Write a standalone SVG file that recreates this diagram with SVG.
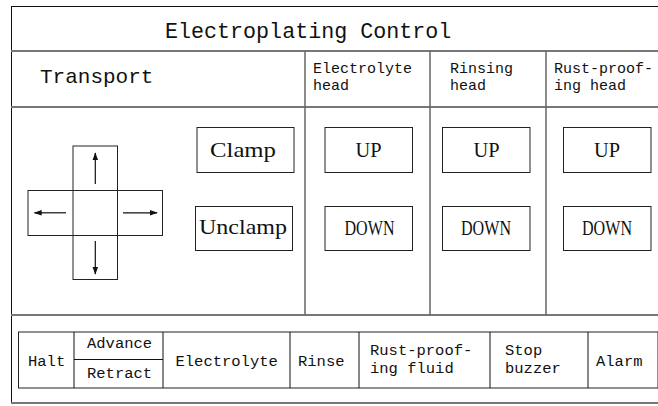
<svg xmlns="http://www.w3.org/2000/svg" width="658" height="406" viewBox="0 0 658 406">
<style>
.frame{stroke:#111;stroke-width:1;fill:none}
.div{stroke:#777;stroke-width:2;fill:none}
.vdiv{stroke:#666;stroke-width:1.5;fill:none}
.box{stroke:#222;stroke-width:1;fill:#fff}
.mono{font-family:"Liberation Mono","DejaVu Sans Mono",monospace;fill:#111}
.serif{font-family:"Liberation Serif","DejaVu Serif",serif;fill:#111;font-size:22px}
.arrow{stroke:#111;stroke-width:1.2;fill:none;marker-end:url(#ah)}
</style>
<defs>
<marker id="ah" viewBox="0 0 10 10" refX="9" refY="5" markerWidth="8" markerHeight="8" markerUnits="userSpaceOnUse" orient="auto">
<path d="M0,1.5 L10,5 L0,8.5 Z" fill="#111"/>
</marker>
</defs>
<rect width="658" height="406" fill="#fff"/>
<g id="frame">
<line class="frame" x1="11" y1="6.5" x2="658" y2="6.5"/>
<line class="frame" x1="11.5" y1="6" x2="11.5" y2="403"/>
<line class="div" x1="11" y1="51" x2="658" y2="51"/>
<line class="div" x1="11" y1="107" x2="658" y2="107"/>
<line class="div" x1="11" y1="315" x2="658" y2="315"/>
<line class="div" x1="11" y1="403" x2="658" y2="403"/>
<line class="vdiv" x1="305" y1="51" x2="305" y2="315"/>
<line class="vdiv" x1="430" y1="51" x2="430" y2="315"/>
<line class="vdiv" x1="546" y1="51" x2="546" y2="315"/>
</g>
<g id="title"><text class="mono" x="165" y="38" font-size="21.7">Electroplating Control</text></g>
<g id="transport-header"><text class="mono" x="40" y="83" font-size="21">Transport</text></g>
<g id="electrolyte-header"><text class="mono" font-size="15"><tspan x="313" y="72.5">Electrolyte</tspan><tspan x="313" y="89.5">head</tspan></text></g>
<g id="rinsing-header"><text class="mono" font-size="15"><tspan x="450" y="72.5">Rinsing</tspan><tspan x="450" y="89.5">head</tspan></text></g>
<g id="rustproof-header"><text class="mono" font-size="15"><tspan x="554" y="72.5">Rust-proof-</tspan><tspan x="554" y="89.5">ing head</tspan></text></g>
<g id="cross">
<rect class="box" x="73" y="146" width="44.5" height="133.5"/>
<rect class="box" x="28" y="190.5" width="134.5" height="45"/>
<rect class="box" x="73" y="190.5" width="44.5" height="45"/>
</g>
<g id="connectors">
<line class="arrow" x1="95.3" y1="184" x2="95.3" y2="153"/>
<line class="arrow" x1="95.3" y1="241" x2="95.3" y2="274"/>
<line class="arrow" x1="66" y1="212.8" x2="34.5" y2="212.8"/>
<line class="arrow" x1="123" y1="212.8" x2="157" y2="212.8"/>
</g>
<g id="clamp"><rect class="box" x="197" y="127.5" width="97" height="45"/><text class="serif" x="210" y="157" textLength="66" lengthAdjust="spacingAndGlyphs">Clamp</text></g>
<g id="unclamp"><rect class="box" x="195.5" y="206.5" width="97" height="44"/><text class="serif" x="199" y="234" textLength="88" lengthAdjust="spacingAndGlyphs">Unclamp</text></g>
<g id="up1"><rect class="box" x="325" y="127.5" width="87.5" height="45"/><text class="serif" x="368.5" y="157" text-anchor="middle" textLength="26" lengthAdjust="spacingAndGlyphs">UP</text></g>
<g id="down1"><rect class="box" x="325" y="206.5" width="87.5" height="44"/><text class="serif" x="344.5" y="235" textLength="50" lengthAdjust="spacingAndGlyphs">DOWN</text></g>
<g id="up2"><rect class="box" x="442.5" y="127.5" width="87.5" height="45"/><text class="serif" x="473.5" y="157" textLength="26" lengthAdjust="spacingAndGlyphs">UP</text></g>
<g id="down2"><rect class="box" x="442.5" y="206.5" width="87.5" height="44"/><text class="serif" x="461" y="235" textLength="50" lengthAdjust="spacingAndGlyphs">DOWN</text></g>
<g id="up3"><rect class="box" x="563.5" y="127.5" width="87.5" height="45"/><text class="serif" x="594" y="157" textLength="26" lengthAdjust="spacingAndGlyphs">UP</text></g>
<g id="down3"><rect class="box" x="563.5" y="206.5" width="87.5" height="44"/><text class="serif" x="582" y="235" textLength="50" lengthAdjust="spacingAndGlyphs">DOWN</text></g>
<g id="bottom-row">
<rect class="box" x="18.5" y="332" width="639.5" height="56" fill="none"/>
<line class="frame" x1="74" y1="332" x2="74" y2="388"/>
<line class="frame" x1="74" y1="359.5" x2="163" y2="359.5"/>
<line class="frame" x1="163" y1="332" x2="163" y2="388"/>
<line class="frame" x1="290" y1="332" x2="290" y2="388"/>
<line class="frame" x1="359" y1="332" x2="359" y2="388"/>
<line class="frame" x1="490" y1="332" x2="490" y2="388"/>
<line class="frame" x1="588" y1="332" x2="588" y2="388"/>
</g>
<g id="halt"><text class="mono" x="28" y="366" font-size="15.5">Halt</text></g>
<g id="advance"><text class="mono" x="87" y="348" font-size="15.5">Advance</text></g>
<g id="retract"><text class="mono" x="87" y="378" font-size="15.5">Retract</text></g>
<g id="electrolyte"><text class="mono" x="175.5" y="366" font-size="15.5">Electrolyte</text></g>
<g id="rinse"><text class="mono" x="298" y="366" font-size="15.5">Rinse</text></g>
<g id="rustproof-fluid"><text class="mono" font-size="15.5"><tspan x="370" y="355">Rust-proof-</tspan><tspan x="370" y="373">ing fluid</tspan></text></g>
<g id="stop-buzzer"><text class="mono" font-size="15.5"><tspan x="505" y="355">Stop</tspan><tspan x="505" y="373">buzzer</tspan></text></g>
<g id="alarm"><text class="mono" x="596" y="366" font-size="15.5">Alarm</text></g>
</svg>
